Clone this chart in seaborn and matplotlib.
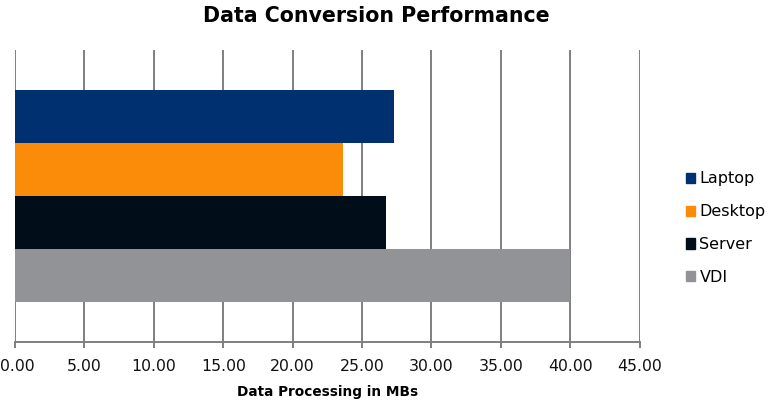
import pandas as pd
import matplotlib.pyplot as plt
import seaborn as sns
from matplotlib.ticker import FuncFormatter, MultipleLocator

# Values
devices = ["Laptop", "Desktop", "Server", "VDI"]
throughput = [27.3, 23.6, 26.7, 40.0]
bar_colors = ["#003070", "#FB8C0A", "#010D18", "#929396"]

sns.set_style("white")
plt.rcParams['font.family'] = ['DejaVu Sans']
plt.rcParams['text.color'] = 'black'

df = pd.DataFrame({"device": devices, "mbs": throughput, "group": ["all"] * len(devices)})

fig = plt.figure(figsize=(7.68, 4.01), dpi=100)
ax = fig.add_axes([0.0195, 0.147, 0.8135, 0.728])

sns.barplot(data=df, x="mbs", y="group", hue="device", hue_order=devices,
            palette=dict(zip(devices, bar_colors)), saturation=1, width=0.726,
            dodge=True, ax=ax, legend=False, zorder=3, linewidth=0)

ax.set_xlim(0, 45)
ax.set_ylim(0.5, -0.5)
ax.xaxis.set_major_locator(MultipleLocator(5))
# the 0.00 label is drawn separately so it stays inside the figure
ax.xaxis.set_major_formatter(FuncFormatter(lambda v, p: "" if v == 0 else f"{v:.2f}"))
ax.grid(True, axis="x", color="#7f7f7f", lw=1.4, zorder=0)
ax.set_yticks([])
ax.set_ylabel("")
for side in ["top", "left", "right"]:
    ax.spines[side].set_visible(False)
ax.spines["bottom"].set_color("#7f7f7f")
ax.spines["bottom"].set_linewidth(1.4)
tick_len, tick_pad, tick_size = 4, 8, 11.3
ax.tick_params(axis="x", bottom=True, length=tick_len, width=1.4, color="#7f7f7f",
               labelsize=tick_size, pad=tick_pad, labelcolor="#111111")
ax.annotate("0.00", xy=(0, 0), xycoords=("data", "axes fraction"),
            xytext=(-11, -(tick_len + tick_pad)), textcoords="offset points",
            ha="left", va="top", fontsize=tick_size, color="#111111")
ax.set_xlabel("Data Processing in MBs", fontsize=9.8, fontweight="bold", labelpad=8,
              color="black")

fig.suptitle("Data Conversion Performance", fontsize=14.8, fontweight="bold", x=0.49, y=0.985,
             color="black")

handles = [plt.Rectangle((0, 0), 1, 1, color=c) for c in bar_colors]
fig.legend(handles, devices, loc="center left", bbox_to_anchor=(0.893, 0.431), frameon=False,
           fontsize=11.5, handlelength=0.55, handleheight=0.6, handletextpad=0.3,
           labelspacing=1.12, borderpad=0, borderaxespad=0)

fig.savefig("out.png", dpi=100)
